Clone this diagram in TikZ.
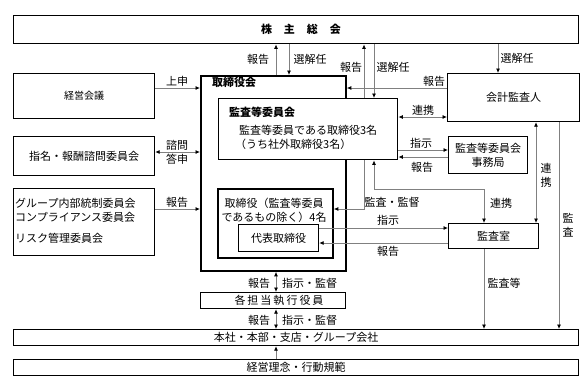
\documentclass[tikz,border=0pt]{standalone}
\usepackage{fontspec}
\setmainfont{Noto Sans CJK JP}
\usetikzlibrary{arrows.meta}
\definecolor{lg}{HTML}{808080}
\begin{document}
\begin{tikzpicture}[x=1pt,y=-1pt,
  every node/.style={font=\fontsize{11}{14}\selectfont},
  bx/.style={draw=black, line width=1.2pt, inner sep=0pt, anchor=north west, align=center},
  lbl/.style={inner sep=0pt},
  cn/.style={draw=lg, line width=0.8pt},
  >={Latex[length=4.5pt,width=4pt,color=black]}]
\fill[white] (0,0) rectangle (588,391);
\useasboundingbox (0,0) rectangle (588,391);
% boxes
\node[bx, line width=1.4pt, minimum width=565pt, minimum height=28pt] (kabu) at (13,15) {};
\node[lbl] (kabut) at (301,29) {\bfseries 株\hspace{12pt}主\hspace{12pt}総\hspace{12pt}会};
\node[bx, minimum width=141pt, minimum height=45pt, font=\fontsize{10}{12}\selectfont] (keiei) at (13,73) {経営会議};
\node[bx, minimum width=141pt, minimum height=39pt] (shimei) at (13,136) {指名・報酬諮問委員会};
\node[bx, minimum width=141pt, minimum height=67pt] (group) at (13,188) {};
\node[lbl, anchor=west] (g1) at (15,203) {グループ内部統制委員会};
\node[lbl, anchor=west] (g2) at (15,217) {コンプライアンス委員会};
\node[lbl, anchor=west] (g3) at (15,238) {リスク管理委員会};
\node[bx, line width=1.8pt, minimum width=145pt, minimum height=195pt] (torishimari) at (200,75) {};
\node[lbl, anchor=west] (tt) at (212,82) {\bfseries 取締役会};
\node[bx, line width=1.4pt, fill=white, minimum width=179pt, minimum height=61pt] (kansa) at (218,98) {};
\node[lbl, anchor=west] (kt) at (229,112) {\bfseries 監査等委員会};
\node[lbl, anchor=west] (k1) at (239,130) {監査等委員である取締役3名};
\node[lbl, anchor=west] (k2) at (235,144) {（うち社外取締役3名）};
\node[bx, line width=1.8pt, minimum width=115pt, minimum height=69pt] (tori2) at (217,188) {};
\node[lbl, align=center] (t2t) at (274,210) {取締役（監査等委員\\であるもの除く）4名};
\node[bx, minimum width=80pt, minimum height=27pt] (daihyo) at (238,224) {代表取締役};
\node[bx, minimum width=132pt, minimum height=48pt] (kaikei) at (447,73) {会計監査人};
\node[bx, minimum width=79pt, minimum height=37pt] (jimu) at (448,136) {監査等委員会\\事務局};
\node[bx, minimum width=90pt, minimum height=25pt] (kshitsu) at (448,223) {監査室};
\node[bx, minimum width=145pt, minimum height=16pt] (shikko) at (200,292) {};
\node[lbl] (shikkot) at (279,300) {各\hspace{2pt}担\hspace{2pt}当\hspace{2pt}執\hspace{2pt}行\hspace{2pt}役\hspace{2pt}員};
\node[bx, minimum width=565pt, minimum height=16pt] (honsha) at (13,329) {本社・本部・支店・グループ会社};
\node[bx, minimum width=565pt, minimum height=16pt] (rinen) at (13,359) {経営理念・行動規範};
% connectors
\draw[cn,->] (276,0 |- torishimari.north) -- (276,0 |- kabu.south);
\draw[cn,->] (289,0 |- kabu.south) -- (289,0 |- torishimari.north);
\draw[cn,->] (364,0 |- kansa.north) -- (364,0 |- kabu.south);
\draw[cn,->] (374,0 |- kabu.south) -- (374,0 |- kansa.north);
\draw[cn,->] (498,0 |- kabu.south) -- (498,0 |- kaikei.north);
\draw[cn,->] (kaikei.west |- 0,88) -- (torishimari.east |- 0,88);
\draw[cn,<->] (kansa.east |- 0,117) -- (kaikei.west |- 0,117);
\draw[cn,->] (kansa.east |- 0,150) -- (jimu.west |- 0,150);
\draw[cn,->] (jimu.west |- 0,157) -- (kansa.east |- 0,157);
\draw[cn,<->] (536,0 |- kaikei.south) -- (536,0 |- kshitsu.north);
\draw[cn,->] (559,0 |- kaikei.south) -- (559,0 |- honsha.north);
\draw[cn,->] (484,0 |- kshitsu.south) -- (484,0 |- honsha.north);
\draw[cn,->] (364,0 |- kansa.south) |- (tori2.east |- 0,209);
\draw[cn,<->] (374,0 |- kansa.south) -- (374,189) -| (kshitsu.north -| 484,0);
\draw[cn,->] (daihyo.east |- 0,228) -- (kshitsu.west |- 0,228);
\draw[cn,->] (kshitsu.west |- 0,243) -- (daihyo.east |- 0,243);
\draw[cn,->] (keiei.east |- 0,88) -- (torishimari.west |- 0,88);
\draw[cn,<->] (shimei.east |- 0,152) -- (torishimari.west |- 0,152);
\draw[cn,->] (group.east |- 0,209) -- (torishimari.west |- 0,209);
\draw[cn,<->] (276,0 |- torishimari.south) -- (276,0 |- shikko.north);
\draw[cn,<->] (276,0 |- shikko.south) -- (276,0 |- honsha.north);
\draw[cn,->] (276,0 |- rinen.north) -- (276,0 |- honsha.south);
% labels
\node[lbl] (l1) at (258,59) {報告};
\node[lbl] (l2) at (310,59) {選解任};
\node[lbl] (l3) at (351,67) {報告};
\node[lbl] (l4) at (393,67) {選解任};
\node[lbl] (l5) at (517,58) {選解任};
\node[lbl] (l6) at (434,81) {報告};
\node[lbl] (l7) at (423,110) {連携};
\node[lbl] (l8) at (421,143) {指示};
\node[lbl] (l9) at (422,167) {報告};
\node[lbl, align=center] (l10) at (546,175) {連\\携};
\node[lbl, align=center] (l11) at (568,225) {監\\査};
\node[lbl] (l12) at (504,283) {監査等};
\node[lbl] (l13) at (392,202) {監査・監督};
\node[lbl] (l14) at (501,203) {連携};
\node[lbl] (l15) at (388,220) {指示};
\node[lbl] (l16) at (388,251) {報告};
\node[lbl] (l17) at (177,81) {上申};
\node[lbl] (l18) at (177,145) {諮問};
\node[lbl] (l19) at (177,159) {答申};
\node[lbl] (l20) at (177,202) {報告};
\node[lbl] (l21) at (259,283) {報告};
\node[lbl, anchor=west] (l22) at (282,283) {指示・監督};
\node[lbl] (l23) at (259,320) {報告};
\node[lbl, anchor=west] (l24) at (282,320) {指示・監督};
\end{tikzpicture}
\end{document}
